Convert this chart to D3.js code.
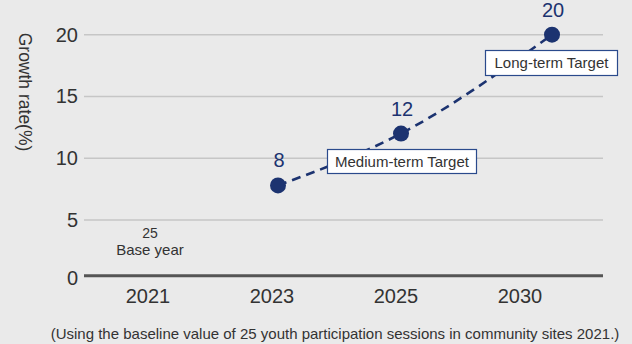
<!DOCTYPE html>
<html><head><meta charset="utf-8">
<script src="https://cdn.jsdelivr.net/npm/d3@7"></script>
<style>
html,body{margin:0;padding:0;background:#eaeaea;}
svg{display:block;font-family:"Liberation Sans",Arial,sans-serif;}
</style></head>
<body>
<svg id="chart" width="632" height="344"></svg>
<script>
const categories = ["2021", "2023", "2025", "2030"];
const pointYears = ["2023", "2025", "2030"];
const pointValues = [7.8, 12, 20];
const pointLabels = ["8", "12", "20"];
const yTicks = [0, 5, 10, 15, 20];
const baseValue = "25";
const baseLabel = "Base year";
const targetLabels = ["Medium-term Target", "Long-term Target"];
const yTitle = "Growth rate(%)";
const footnote = "(Using the baseline value of 25 youth participation sessions in community sites 2021.)";

const svg = d3.select("#chart");
const navy = "#1c3370";
const text = "#333";

const x = d3.scalePoint().domain(categories).range([148, 520]);
const y = d3.scaleLinear().domain([0, 20]).range([281.8, 34.7]);
const plotL = 84, plotR = 603;
const baseShift = -6;
const nudge = {"2023": 6, "2025": 5, "2030": 32};
const px = (yr) => x(yr) + nudge[yr];

// gridlines
svg.append("g").selectAll("line").data(yTicks.filter(t => t > 0)).join("line")
  .attr("x1", plotL).attr("x2", plotR)
  .attr("y1", d => y(d)).attr("y2", d => y(d))
  .attr("stroke", "#c6c6c6").attr("stroke-width", 1.5);
// baseline
svg.append("line").attr("x1", plotL).attr("x2", plotR)
  .attr("y1", y(0) + baseShift).attr("y2", y(0) + baseShift)
  .attr("stroke", "#555").attr("stroke-width", 3);

// y tick labels
svg.append("g").selectAll("text").data(yTicks).join("text")
  .attr("x", 78).attr("y", d => d === 0 ? y(0) + baseShift + 2 : y(d))
  .attr("dy", "0.35em").attr("text-anchor", "end")
  .attr("font-size", 20).attr("fill", text).text(d => d);

// y title
svg.append("text").attr("transform", "translate(19,92) rotate(90)")
  .attr("text-anchor", "middle").attr("font-size", 17.5).attr("fill", text).text(yTitle);

// x labels
svg.append("g").selectAll("text").data(categories).join("text")
  .attr("x", d => x(d)).attr("y", 296).attr("dy", "0.35em")
  .attr("text-anchor", "middle").attr("font-size", 20).attr("fill", text).text(d => d);

// base year annotation
svg.append("text").attr("x", x("2021") + 2).attr("y", 238).attr("text-anchor", "middle")
  .attr("font-size", 14).attr("fill", text).text(baseValue);
svg.append("text").attr("x", x("2021") + 2).attr("y", 255).attr("text-anchor", "middle")
  .attr("font-size", 15).attr("fill", text).text(baseLabel);

const pts = pointYears.map((yr, i) => ({yr, v: pointValues[i], lab: pointLabels[i]}));

// dashed line
const line = d3.line().x(d => px(d.yr)).y(d => y(d.v)).curve(d3.curveMonotoneX);
svg.append("path").datum(pts).attr("d", line)
  .attr("fill", "none").attr("stroke", navy).attr("stroke-width", 2.6)
  .attr("stroke-dasharray", "9,6");

// target boxes
function box(cx, cy, w, h, label) {
  const g = svg.append("g");
  g.append("rect").attr("x", cx - w / 2).attr("y", cy - h / 2).attr("width", w).attr("height", h)
    .attr("fill", "#fff").attr("stroke", "#2a4a8c").attr("stroke-width", 1.2);
  g.append("text").attr("x", cx).attr("y", cy).attr("dy", "0.36em").attr("text-anchor", "middle")
    .attr("font-size", 15).attr("fill", text).text(label);
}
box(402, 161.5, 149, 24, targetLabels[0]);
box(551.5, 63, 132, 25, targetLabels[1]);

// points
svg.append("g").selectAll("circle").data(pts).join("circle")
  .attr("cx", d => px(d.yr)).attr("cy", d => y(d.v)).attr("r", 8).attr("fill", navy);
svg.append("g").selectAll("text").data(pts).join("text")
  .attr("x", d => px(d.yr) + 1).attr("y", d => y(d.v) - 25).attr("dy", "0.35em")
  .attr("text-anchor", "middle").attr("font-size", 20).attr("fill", navy).text(d => d.lab);

// footnote
svg.append("text").attr("x", 335).attr("y", 334).attr("dy", "0.35em").attr("text-anchor", "middle")
  .attr("font-size", 15).attr("fill", text).text(footnote);
</script>
</body></html>
